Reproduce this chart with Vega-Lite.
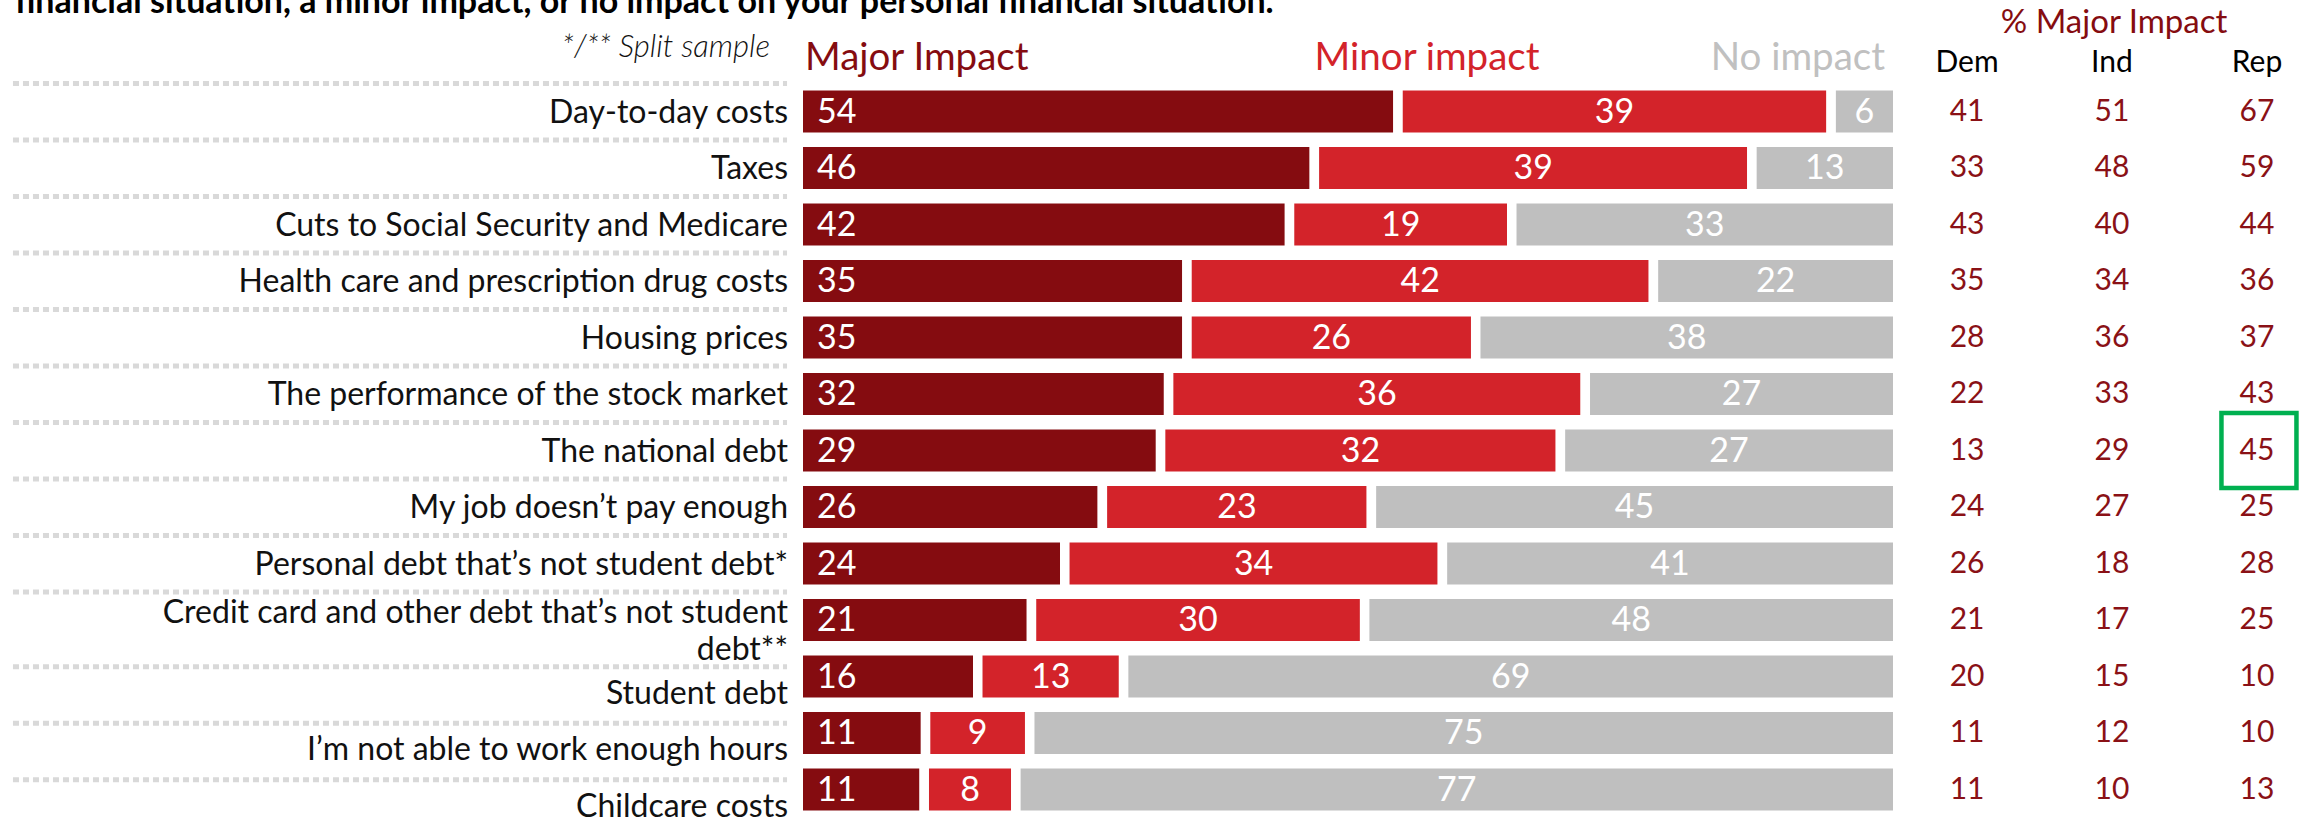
{
  "$schema": "https://vega.github.io/schema/vega-lite/v6.json",
  "autosize": {"type": "none"},
  "width": 2318,
  "height": 791,
  "padding": {"top": 26.75, "bottom": 2.25, "left": 0, "right": 0},
  "background": "white",
  "config": {"view": {"stroke": null}, "font": "Lato"},
  "data": {
    "values": [
      {"item": "Day-to-day costs", "major": 54, "minor": 39, "none": 6, "dem": 41, "ind": 51, "rep": 67},
      {"item": "Taxes", "major": 46, "minor": 39, "none": 13, "dem": 33, "ind": 48, "rep": 59},
      {"item": "Cuts to Social Security and Medicare", "major": 42, "minor": 19, "none": 33, "dem": 43, "ind": 40, "rep": 44},
      {"item": "Health care and prescription drug costs", "major": 35, "minor": 42, "none": 22, "dem": 35, "ind": 34, "rep": 36},
      {"item": "Housing prices", "major": 35, "minor": 26, "none": 38, "dem": 28, "ind": 36, "rep": 37},
      {"item": "The performance of the stock market", "major": 32, "minor": 36, "none": 27, "dem": 22, "ind": 33, "rep": 43},
      {"item": "The national debt", "major": 29, "minor": 32, "none": 27, "dem": 13, "ind": 29, "rep": 45},
      {"item": "My job doesn’t pay enough", "major": 26, "minor": 23, "none": 45, "dem": 24, "ind": 27, "rep": 25},
      {"item": "Personal debt that’s not student debt*", "major": 24, "minor": 34, "none": 41, "dem": 26, "ind": 18, "rep": 28},
      {"item": "Credit card and other debt that’s not student\ndebt**", "major": 21, "minor": 30, "none": 48, "dem": 21, "ind": 17, "rep": 25},
      {"item": "Student debt", "major": 16, "minor": 13, "none": 69, "dem": 20, "ind": 15, "rep": 10},
      {"item": "I’m not able to work enough hours", "major": 11, "minor": 9, "none": 75, "dem": 11, "ind": 12, "rep": 10},
      {"item": "Childcare costs", "major": 11, "minor": 8, "none": 77, "dem": 11, "ind": 10, "rep": 13}
    ]
  },
  "layer": [
    {
      "transform": [{"filter": "indexof(['Student debt', 'I’m not able to work enough hours', 'Childcare costs'], datum.item) < 0"}],
      "mark": {"type": "rule", "stroke": "#d9d9d9", "strokeWidth": 5, "strokeDash": [6, 4], "yOffset": -2.25},
      "encoding": {
        "y": {"field": "item", "type": "nominal", "bandPosition": 0, "axis": null,
              "scale": {"domain": ["hdr", "Day-to-day costs", "Taxes", "Cuts to Social Security and Medicare", "Health care and prescription drug costs", "Housing prices", "The performance of the stock market", "The national debt", "My job doesn’t pay enough", "Personal debt that’s not student debt*", "Credit card and other debt that’s not student\ndebt**", "Student debt", "I’m not able to work enough hours", "Childcare costs"], "paddingInner": 0.088, "paddingOuter": 0.044}},
        "x": {"datum": -0.7142, "type": "quantitative", "axis": null, "scale": {"domain": [-0.726, 1.3822], "nice": false, "zero": false}},
        "x2": {"datum": -0.0102}
      }
    },
    {
      "transform": [{"filter": "indexof(['Student debt', 'I’m not able to work enough hours', 'Childcare costs'], datum.item) >= 0"}],
      "mark": {"type": "rule", "stroke": "#d9d9d9", "strokeWidth": 5, "strokeDash": [6, 4], "yOffset": 16},
      "encoding": {
        "y": {"field": "item", "type": "nominal", "bandPosition": 0, "axis": null},
        "x": {"datum": -0.7142, "type": "quantitative", "axis": null},
        "x2": {"datum": -0.0102}
      }
    },
    {
      "transform": [{"filter": "indexof(['Student debt', 'I’m not able to work enough hours', 'Childcare costs'], datum.item) < 0 && indexof(datum.item, 'Credit card') < 0"}],
      "mark": {"type": "text", "align": "right", "baseline": "middle", "fontSize": 32, "color": "#111111", "dy": 1},
      "encoding": {
        "y": {"field": "item", "type": "nominal", "axis": null},
        "x": {"datum": -0.0093, "type": "quantitative", "axis": null},
        "text": {"field": "item"}
      }
    },
    {
      "transform": [{"filter": "indexof(datum.item, 'Credit card') === 0"}],
      "mark": {"type": "text", "align": "right", "baseline": "middle", "fontSize": 32, "color": "#111111", "lineBreak": "\n", "lineHeight": 37, "dy": -7},
      "encoding": {
        "y": {"field": "item", "type": "nominal", "axis": null},
        "x": {"datum": -0.0093, "type": "quantitative", "axis": null},
        "text": {"field": "item"}
      }
    },
    {
      "transform": [{"filter": "indexof(['Student debt', 'I’m not able to work enough hours', 'Childcare costs'], datum.item) >= 0"}],
      "mark": {"type": "text", "align": "right", "baseline": "middle", "fontSize": 32, "color": "#111111", "dy": 17},
      "encoding": {
        "y": {"field": "item", "type": "nominal", "axis": null},
        "x": {"datum": -0.0093, "type": "quantitative", "axis": null},
        "text": {"field": "item"}
      }
    },
    {
      "transform": [{"fold": ["major", "minor", "none"], "as": ["key", "value"]}],
      "mark": {"type": "bar", "stroke": "white", "strokeWidth": 9.5},
      "encoding": {
        "y": {"field": "item", "type": "nominal", "axis": null},
        "x": {"field": "value", "type": "quantitative", "stack": "normalize", "axis": null},
        "color": {"field": "key", "type": "nominal", "legend": null, "scale": {"domain": ["major", "minor", "none"], "range": ["#850c10", "#d3232a", "#bfbfbf"]}},
        "order": {"field": "key", "sort": "ascending"}
      }
    },
    {
      "transform": [{"fold": ["major", "minor", "none"], "as": ["key", "value"]}],
      "mark": {"type": "text", "align": "center", "baseline": "middle", "fontSize": 34, "color": "white", "dy": 1},
      "encoding": {
        "y": {"field": "item", "type": "nominal", "axis": null},
        "x": {"field": "value", "type": "quantitative", "stack": "normalize", "bandPosition": 0.5, "axis": null},
        "detail": {"field": "key", "type": "nominal"},
        "order": {"field": "key", "sort": "ascending"},
        "text": {"field": "value", "type": "quantitative"},
        "opacity": {"condition": {"test": "datum.key === 'major'", "value": 0}, "value": 1}
      }
    },
    {
      "mark": {"type": "text", "align": "left", "baseline": "middle", "fontSize": 34, "color": "white", "dx": 18.75, "dy": 1},
      "encoding": {
        "y": {"field": "item", "type": "nominal", "axis": null},
        "x": {"datum": 0, "type": "quantitative", "axis": null},
        "text": {"field": "major", "type": "quantitative"}
      }
    },
    {
      "mark": {"type": "text", "align": "center", "baseline": "middle", "fontSize": 30, "color": "#8a1116"},
      "encoding": {
        "y": {"field": "item", "type": "nominal", "axis": null},
        "x": {"datum": 1.063, "type": "quantitative", "axis": null},
        "text": {"field": "dem", "type": "quantitative"}
      }
    },
    {
      "mark": {"type": "text", "align": "center", "baseline": "middle", "fontSize": 30, "color": "#8a1116"},
      "encoding": {
        "y": {"field": "item", "type": "nominal", "axis": null},
        "x": {"datum": 1.1948, "type": "quantitative", "axis": null},
        "text": {"field": "ind", "type": "quantitative"}
      }
    },
    {
      "mark": {"type": "text", "align": "center", "baseline": "middle", "fontSize": 30, "color": "#8a1116"},
      "encoding": {
        "y": {"field": "item", "type": "nominal", "axis": null},
        "x": {"datum": 1.3267, "type": "quantitative", "axis": null},
        "text": {"field": "rep", "type": "quantitative"}
      }
    },
    {
      "transform": [{"filter": "datum.item === 'The national debt'"}],
      "mark": {"type": "point", "shape": "square", "size": 5625, "filled": false, "stroke": "#00b050", "strokeWidth": 4.5, "opacity": 1},
      "encoding": {
        "y": {"field": "item", "type": "nominal", "axis": null},
        "x": {"datum": 1.3285, "type": "quantitative", "axis": null}
      }
    },
    {
      "data": {"values": [{}]},
      "mark": {"type": "text", "align": "left", "baseline": "alphabetic", "fontSize": 34, "fontWeight": "bold", "color": "#000000", "dy": -42, "text": "financial situation, a minor impact, or no impact on your personal financial situation."},
      "encoding": {"y": {"datum": "hdr", "type": "nominal", "axis": null}, "x": {"datum": -0.7124, "type": "quantitative", "axis": null}}
    },
    {
      "data": {"values": [{}]},
      "mark": {"type": "text", "align": "right", "baseline": "alphabetic", "fontSize": 31, "fontStyle": "italic", "fontWeight": 300, "color": "#111111", "dy": 2, "text": "*/** Split sample"},
      "encoding": {"y": {"datum": "hdr", "type": "nominal", "axis": null}, "x": {"datum": -0.0257, "type": "quantitative", "axis": null}}
    },
    {
      "data": {"values": [{}]},
      "mark": {"type": "text", "align": "left", "baseline": "alphabetic", "fontSize": 38.5, "color": "#850c10", "dy": 15, "text": "Major Impact"},
      "encoding": {"y": {"datum": "hdr", "type": "nominal", "axis": null}, "x": {"datum": 0.0061, "type": "quantitative", "axis": null}}
    },
    {
      "data": {"values": [{}]},
      "mark": {"type": "text", "align": "center", "baseline": "alphabetic", "fontSize": 38.5, "color": "#d3232a", "dy": 15, "text": "Minor impact"},
      "encoding": {"y": {"datum": "hdr", "type": "nominal", "axis": null}, "x": {"datum": 0.5719, "type": "quantitative", "axis": null}}
    },
    {
      "data": {"values": [{}]},
      "mark": {"type": "text", "align": "right", "baseline": "alphabetic", "fontSize": 38.5, "color": "#c0c0c0", "dy": 15, "text": "No impact"},
      "encoding": {"y": {"datum": "hdr", "type": "nominal", "axis": null}, "x": {"datum": 0.9884, "type": "quantitative", "axis": null}}
    },
    {
      "data": {"values": [{}]},
      "mark": {"type": "text", "align": "center", "baseline": "alphabetic", "fontSize": 33, "color": "#850c10", "dy": -22, "text": "% Major Impact"},
      "encoding": {"y": {"datum": "hdr", "type": "nominal", "axis": null}, "x": {"datum": 1.1967, "type": "quantitative", "axis": null}}
    },
    {
      "data": {"values": [{}]},
      "mark": {"type": "text", "align": "center", "baseline": "alphabetic", "fontSize": 30, "color": "#000000", "dy": 17, "text": "Dem"},
      "encoding": {"y": {"datum": "hdr", "type": "nominal", "axis": null}, "x": {"datum": 1.063, "type": "quantitative", "axis": null}}
    },
    {
      "data": {"values": [{}]},
      "mark": {"type": "text", "align": "center", "baseline": "alphabetic", "fontSize": 30, "color": "#000000", "dy": 17, "text": "Ind"},
      "encoding": {"y": {"datum": "hdr", "type": "nominal", "axis": null}, "x": {"datum": 1.1948, "type": "quantitative", "axis": null}}
    },
    {
      "data": {"values": [{}]},
      "mark": {"type": "text", "align": "center", "baseline": "alphabetic", "fontSize": 30, "color": "#000000", "dy": 17, "text": "Rep"},
      "encoding": {"y": {"datum": "hdr", "type": "nominal", "axis": null}, "x": {"datum": 1.3267, "type": "quantitative", "axis": null}}
    }
  ]
}
